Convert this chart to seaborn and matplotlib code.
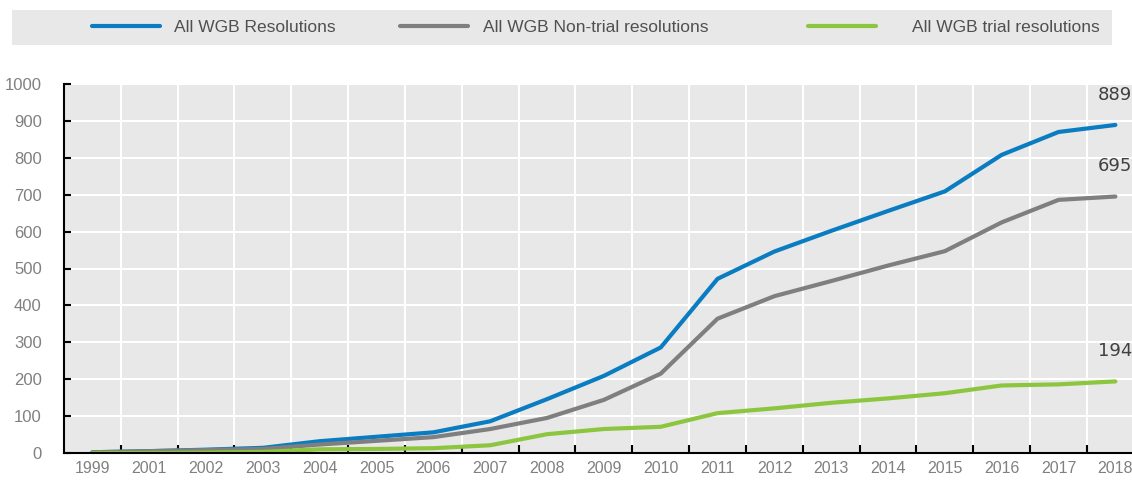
import pandas as pd
import matplotlib.pyplot as plt
import seaborn as sns
from matplotlib.ticker import MultipleLocator, FixedLocator
from matplotlib.lines import Line2D

# data
years = ["1999", "2001", "2002", "2003", "2004", "2005", "2006", "2007", "2008", "2009",
         "2010", "2011", "2012", "2013", "2014", "2015", "2016", "2017", "2018"]
all_res = [2, 5, 9, 14, 32, 44, 56, 86, 146, 209, 286, 472, 546, 602, 656, 709, 808, 870, 889]
non_trial = [2, 5, 8, 11, 23, 33, 43, 65, 95, 144, 215, 364, 425, 466, 508, 547, 625, 686, 695]
trial = [0, 0, 1, 3, 10, 11, 13, 21, 51, 65, 71, 108, 121, 136, 148, 162, 183, 186, 194]

series_names = ["All WGB Resolutions", "All WGB Non-trial resolutions", "All WGB trial resolutions"]
colors = ["#0a7cc1", "#7f7f7f", "#8cc63f"]

rows = []
for name, vals in zip(series_names, [all_res, non_trial, trial]):
    for i, (yr, v) in enumerate(zip(years, vals)):
        rows.append({"pos": i, "year": yr, "value": v, "series": name})
df = pd.DataFrame(rows)

sns.set_style("darkgrid", {"axes.facecolor": "#e8e8e8", "grid.color": "white"})
plt.rcParams["font.family"] = ["Liberation Sans", "DejaVu Sans"]

fig = plt.figure(figsize=(11.32, 4.8), dpi=100)
n = len(years)
ax = fig.add_axes([64 / 1132, 27 / 480, n * 56.83 / 1132, 369 / 480])

sns.lineplot(data=df, x="pos", y="value", hue="series", palette=colors,
             linewidth=3, ax=ax, legend=False)

ax.set_xlim(-0.5, n - 0.5)
ax.set_ylim(0, 1000)
ax.set_xlabel("")
ax.set_ylabel("")

# x: labels at category centres, ticks/grid at boundaries
ax.xaxis.set_major_locator(FixedLocator(range(n)))
ax.set_xticklabels(years)
ax.xaxis.set_minor_locator(FixedLocator([i + 0.5 for i in range(n - 1)]))
ax.tick_params(axis="x", which="major", length=0, pad=6, labelsize=11.5, labelcolor="#808080")
ax.tick_params(axis="x", which="minor", direction="in", length=6, width=1.5, color="black", bottom=True)
ax.yaxis.set_major_locator(MultipleLocator(100))
ax.tick_params(axis="y", direction="in", length=5, width=1.5, color="black", left=True,
               pad=16, labelsize=12, labelcolor="#808080")

ax.grid(False)
ax.grid(which="minor", axis="x", color="white", linewidth=1.5)
ax.grid(which="major", axis="y", color="white", linewidth=1.5)

for side in ["top", "right"]:
    ax.spines[side].set_visible(False)
for side in ["left", "bottom"]:
    ax.spines[side].set_visible(True)
    ax.spines[side].set_color("black")
    ax.spines[side].set_linewidth(1.5)

# end-of-line value labels
for vals in [all_res, non_trial, trial]:
    ax.text(n - 1, vals[-1] + 82, str(vals[-1]), ha="center", va="center",
            fontsize=13, color="#404040", family=["DejaVu Sans"])

# legend strip on top, one entry per slot like the original
lax = fig.add_axes([12 / 1132, 435 / 480, 1100 / 1132, 35 / 480])
lax.set_facecolor("#e8e8e8")
lax.set_xticks([])
lax.set_yticks([])
for s in lax.spines.values():
    s.set_visible(False)
slots = [(92, 0.8), (400, 0.9), (808, 2.1)]
legs = []
for name, c, (x0, gap) in zip(series_names, colors, slots):
    leg = lax.legend([Line2D([0], [0], color=c, linewidth=3)], [name],
                     loc="center left", bbox_to_anchor=((x0 - 12) / 1100, 0.5),
                     frameon=False, handlelength=3.9, handletextpad=gap,
                     fontsize=12.5, labelcolor="#505050",
                     borderaxespad=0, borderpad=0)
    legs.append(leg)
# the last one stays as the axes legend, the others are added as artists
for leg in legs[:-1]:
    lax.add_artist(leg)

fig.savefig("out.png", dpi=100)
